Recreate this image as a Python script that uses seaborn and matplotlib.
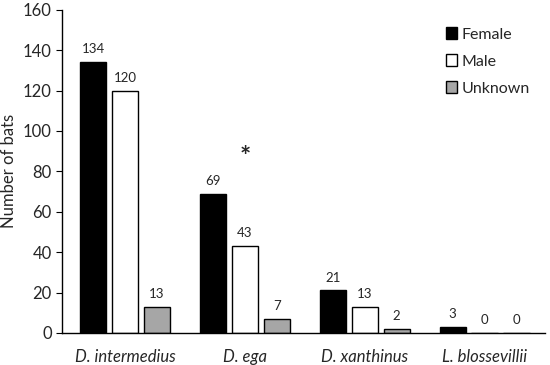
import pandas as pd
import seaborn as sns
import matplotlib.pyplot as plt

sns.set_style('white')
plt.rcParams['font.family'] = ['Lato', 'DejaVu Sans']

species = ['D. intermedius', 'D. ega', 'D. xanthinus', 'L. blossevillii']
sexes = ['Female', 'Male', 'Unknown']
female = [134, 69, 21, 3]
male = [120, 43, 13, 0]
unknown = [13, 7, 2, 0]

df = pd.DataFrame({'Species': species * 3,
                   'Sex': [s for s in sexes for _ in species],
                   'Bats': female + male + unknown})

fig, ax = plt.subplots(figsize=(5.5, 3.65), dpi=100)
fig.subplots_adjust(left=0.113, right=0.99, bottom=0.088, top=0.973)

sns.barplot(data=df, x='Species', y='Bats', hue='Sex', hue_order=sexes,
            palette=['black', 'white', '#a6a6a6'], edgecolor='black',
            linewidth=1, width=0.8, gap=0.18, ax=ax)

for c in ax.containers:
    ax.bar_label(c, padding=5, fontsize=9.5)

# asterisco sobre D. ega
ax.text(1, 81, '*', ha='center', va='bottom', fontsize=19, fontweight='bold')

ax.set_ylim(0, 160)
ax.set_yticks(range(0, 161, 20))
ax.set_xlim(-0.525, 3.5)
ax.set_xlabel('')
ax.set_ylabel('Number of bats', fontsize=12)
ax.tick_params(axis='y', labelsize=12, left=True, length=4, direction='out', color='black')
ax.tick_params(axis='x', labelsize=12, bottom=False, pad=8)
for lab in ax.get_xticklabels():
    lab.set_fontstyle('italic')

sns.despine(ax=ax)
for s in ['left', 'bottom']:
    ax.spines[s].set_color('black')
    ax.spines[s].set_linewidth(1)

leg = ax.get_legend()
leg.set_title(None)
ax.legend(loc='upper right', frameon=False, fontsize=11.5, handlelength=0.7,
          handleheight=0.7, handletextpad=0.3, labelspacing=0.8,
          bbox_to_anchor=(1.0, 0.99))

fig.savefig('out.png', dpi=100)
